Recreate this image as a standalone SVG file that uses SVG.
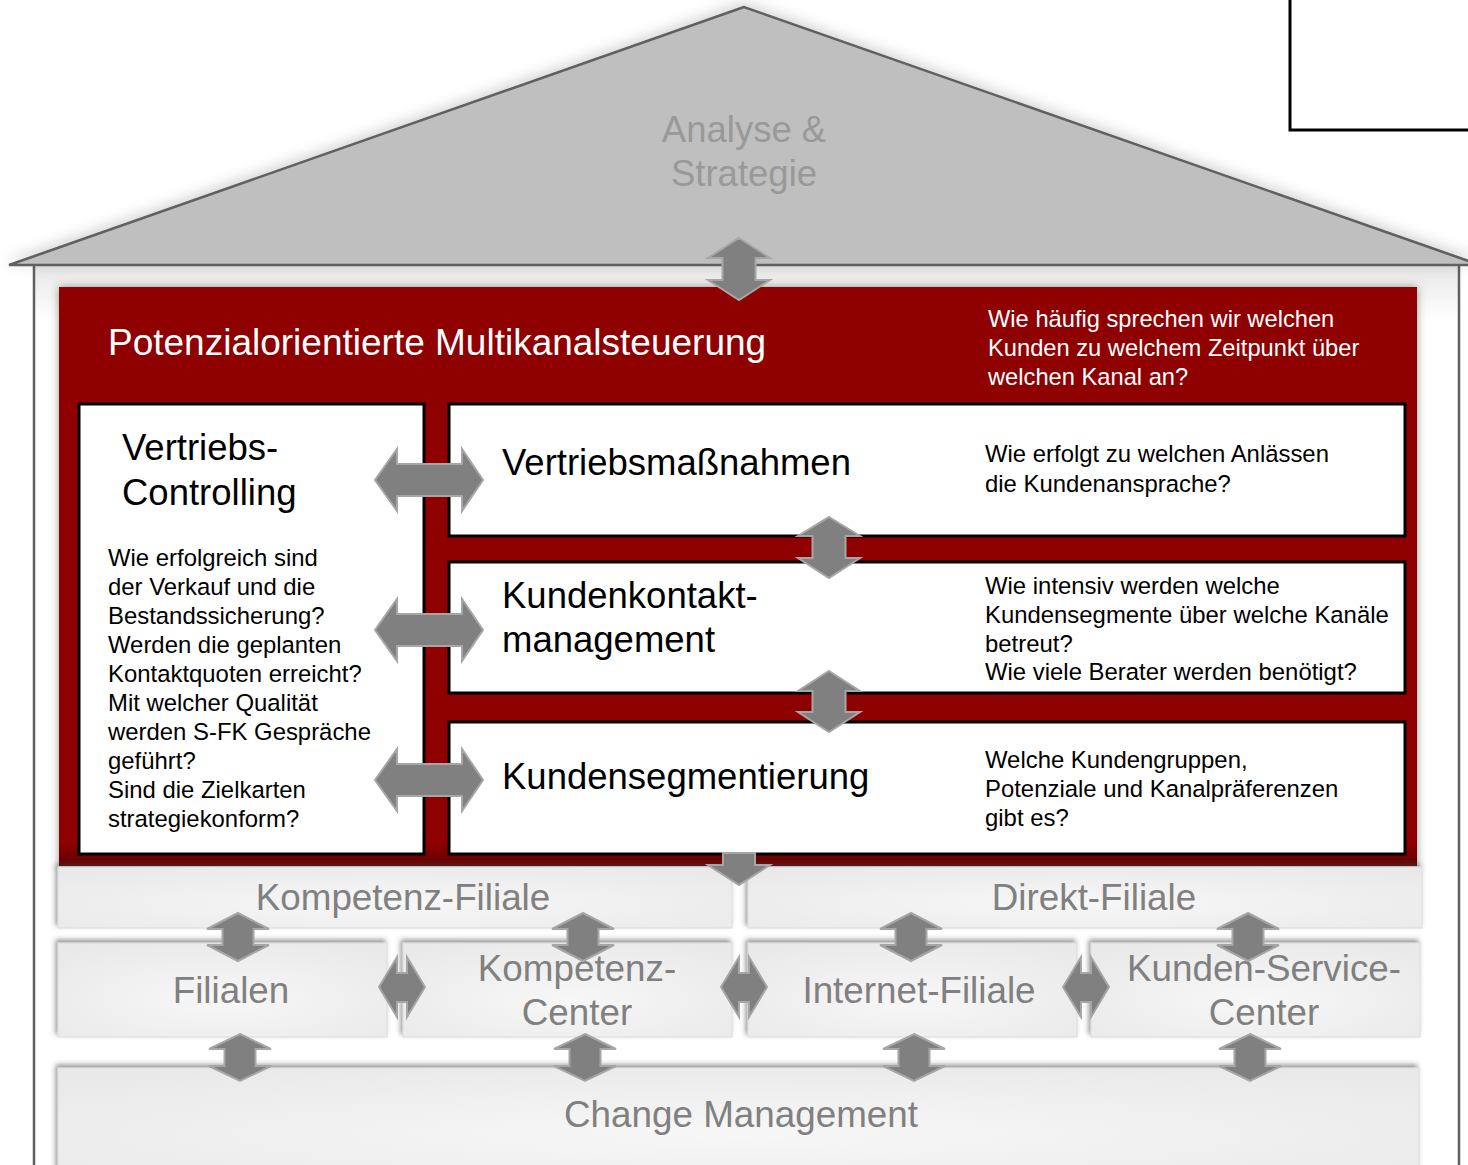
<svg xmlns="http://www.w3.org/2000/svg" width="1468" height="1165" viewBox="0 0 1468 1165">
<defs>
<filter id="roofsh" x="-10%" y="-30%" width="120%" height="160%"><feDropShadow dx="0" dy="-3" stdDeviation="7" flood-color="#000" flood-opacity="0.18"/></filter>
<filter id="redsh" x="-5%" y="-5%" width="110%" height="110%"><feDropShadow dx="0" dy="0" stdDeviation="4" flood-color="#404040" flood-opacity="0.55"/></filter>
<filter id="boxsh" x="-5%" y="-20%" width="110%" height="140%"><feDropShadow dx="-2" dy="-3" stdDeviation="2.5" flood-color="#404040" flood-opacity="0.55"/></filter>
<linearGradient id="redg" x1="0" y1="0" x2="0" y2="1"><stop offset="0" stop-color="#8f0000"/><stop offset="0.96" stop-color="#8f0000"/><stop offset="1" stop-color="#600000"/></linearGradient>
<radialGradient id="boxg" cx="0.5" cy="0.6" r="0.7"><stop offset="0" stop-color="#f7f7f7"/><stop offset="1" stop-color="#e9e9e9"/></radialGradient>
<linearGradient id="wallg" x1="0" y1="0" x2="0" y2="1"><stop offset="0" stop-color="#e6e6e6"/><stop offset="0.06" stop-color="#ffffff"/><stop offset="1" stop-color="#ffffff"/></linearGradient>
</defs>
<style>
.roof{fill:#bfbfbf;stroke:#606060;stroke-width:2.5;stroke-linejoin:miter}
.wall{stroke:#606060;stroke-width:2.5;fill:none}
.red{fill:url(#redg)}
.wbox{fill:#ffffff;stroke:#000000;stroke-width:3}
.gbox{fill:url(#boxg);stroke:#dcdcdc;stroke-width:1}
.arr{fill:#808080;stroke:#a6a6a6;stroke-width:2;stroke-linejoin:miter}
text{font-family:"Liberation Sans",Arial,Helvetica,sans-serif}
.big{font-size:36.5px;fill:#000}
.sm{font-size:23.9px;fill:#000}
.wsm{font-size:23.7px;fill:#fff}
.title{font-size:37px;fill:#fff}
.gray{font-size:36.8px;fill:#808080;text-anchor:middle}
.roofT{font-size:36.5px;fill:#999999;text-anchor:middle}
</style>
<rect x="0" y="0" width="1468" height="1165" fill="#ffffff"/>
<g id="frame">
<rect x="34" y="265" width="1425" height="900" fill="url(#wallg)"/>
<line class="wall" x1="34" y1="265" x2="34" y2="1165"/>
<line class="wall" x1="1459" y1="265" x2="1459" y2="1165"/>
</g>
<g id="roof">
<polygon class="roof" points="744,7 9,265 1480,265" filter="url(#roofsh)"/>
<text class="roofT" x="744" y="142">Analyse &amp;</text>
<text class="roofT" x="744" y="186">Strategie</text>
</g>
<g id="corner-box">
<rect x="1290" y="-5" width="200" height="135" fill="#ffffff" stroke="#000" stroke-width="3"/>
</g>
<g id="multikanal">
<rect class="red" x="59" y="287" width="1358" height="579" filter="url(#redsh)"/>
<text class="title" x="108" y="355">Potenzialorientierte Multikanalsteuerung</text>
<text class="wsm" x="988" y="327">Wie häufig sprechen wir welchen</text>
<text class="wsm" x="988" y="356">Kunden zu welchem Zeitpunkt über</text>
<text class="wsm" x="988" y="385">welchen Kanal an?</text>
</g>
<g id="vertriebs-controlling">
<rect class="wbox" x="79" y="404" width="345" height="450"/>
<text class="big" x="122" y="460">Vertriebs-</text>
<text class="big" x="122" y="505">Controlling</text>
<text class="sm" x="108" y="566">Wie erfolgreich sind</text>
<text class="sm" x="108" y="595">der Verkauf und die</text>
<text class="sm" x="108" y="624">Bestandssicherung?</text>
<text class="sm" x="108" y="653">Werden die geplanten</text>
<text class="sm" x="108" y="682">Kontaktquoten erreicht?</text>
<text class="sm" x="108" y="711">Mit welcher Qualität</text>
<text class="sm" x="108" y="740">werden S-FK Gespräche</text>
<text class="sm" x="108" y="769">geführt?</text>
<text class="sm" x="108" y="798">Sind die Zielkarten</text>
<text class="sm" x="108" y="827">strategiekonform?</text>
</g>
<g id="vertriebsmassnahmen">
<rect class="wbox" x="449" y="404" width="956" height="132"/>
<text class="big" x="502" y="475">Vertriebsmaßnahmen</text>
<text class="sm" x="985" y="462">Wie erfolgt zu welchen Anlässen</text>
<text class="sm" x="985" y="492">die Kundenansprache?</text>
</g>
<g id="kundenkontaktmanagement">
<rect class="wbox" x="449" y="562" width="956" height="131"/>
<text class="big" x="502" y="608">Kundenkontakt-</text>
<text class="big" x="502" y="652">management</text>
<text class="sm" x="985" y="594">Wie intensiv werden welche</text>
<text class="sm" x="985" y="623">Kundensegmente über welche Kanäle</text>
<text class="sm" x="985" y="652">betreut?</text>
<text class="sm" x="985" y="680">Wie viele Berater werden benötigt?</text>
</g>
<g id="kundensegmentierung">
<rect class="wbox" x="449" y="722" width="956" height="132"/>
<text class="big" x="502" y="789">Kundensegmentierung</text>
<text class="sm" x="985" y="768">Welche Kundengruppen,</text>
<text class="sm" x="985" y="797">Potenziale und Kanalpräferenzen</text>
<text class="sm" x="985" y="826">gibt es?</text>
</g>
<g id="kompetenz-filiale">
<rect class="gbox" x="58" y="867" width="674" height="61" filter="url(#boxsh)"/>
<text class="gray" x="403" y="910">Kompetenz-Filiale</text>
</g>
<g id="direkt-filiale">
<rect class="gbox" x="748" y="867" width="674" height="61" filter="url(#boxsh)"/>
<text class="gray" x="1094" y="910">Direkt-Filiale</text>
</g>
<g id="filialen">
<rect class="gbox" x="58" y="943" width="329" height="94" filter="url(#boxsh)"/>
<text class="gray" x="231" y="1003">Filialen</text>
</g>
<g id="kompetenz-center">
<rect class="gbox" x="403" y="943" width="329" height="94" filter="url(#boxsh)"/>
<text class="gray" x="577" y="981">Kompetenz-</text>
<text class="gray" x="577" y="1025">Center</text>
</g>
<g id="internet-filiale">
<rect class="gbox" x="748" y="943" width="329" height="94" filter="url(#boxsh)"/>
<text class="gray" x="919" y="1003">Internet-Filiale</text>
</g>
<g id="kunden-service-center">
<rect class="gbox" x="1091" y="943" width="329" height="94" filter="url(#boxsh)"/>
<text class="gray" x="1264" y="981">Kunden-Service-</text>
<text class="gray" x="1264" y="1025">Center</text>
</g>
<g id="change-management">
<rect class="gbox" x="58" y="1068" width="1361" height="110" filter="url(#boxsh)"/>
<text class="gray" x="741" y="1127">Change Management</text>
</g>
<g id="connectors">
<polygon class="arr" points="739,238 770,258 755.5,258 755.5,280 770,280 739,300 708,280 722.5,280 722.5,258 708,258"/>
<polygon class="arr" points="829,517 860,536 845.5,536 845.5,558 860,558 829,578 798,558 812.5,558 812.5,536 798,536"/>
<polygon class="arr" points="829,671 860,691 845.5,691 845.5,712 860,712 829,732 798,712 812.5,712 812.5,691 798,691"/>
<polygon class="arr" points="375,480 397,449 397,464 462,464 462,449 483,480 462,511 462,496 397,496 397,511"/>
<polygon class="arr" points="375,630 397,599 397,614 462,614 462,599 483,630 462,661 462,646 397,646 397,661"/>
<polygon class="arr" points="375,780 397,749 397,764 462,764 462,749 483,780 462,811 462,796 397,796 397,811"/>
<polygon class="arr" points="723,853 755,853 755,865 770,865 739,885 708,865 723,865"/>
<polygon class="arr" points="238,913 269,929 253.5,929 253.5,945 269,945 238,961 207,945 222.5,945 222.5,929 207,929"/>
<polygon class="arr" points="583,913 614,929 598.5,929 598.5,945 614,945 583,961 552,945 567.5,945 567.5,929 552,929"/>
<polygon class="arr" points="911,913 942,929 926.5,929 926.5,945 942,945 911,961 880,945 895.5,945 895.5,929 880,929"/>
<polygon class="arr" points="1248,913 1279,929 1263.5,929 1263.5,945 1279,945 1248,961 1217,945 1232.5,945 1232.5,929 1217,929"/>
<polygon class="arr" points="379,987 397,957 397,973 407,973 407,957 425,987 407,1017 407,1002 397,1002 397,1017"/>
<polygon class="arr" points="721,987 739,957 739,973 749,973 749,957 767,987 749,1017 749,1002 739,1002 739,1017"/>
<polygon class="arr" points="1063,987 1081,957 1081,973 1091,973 1091,957 1109,987 1091,1017 1091,1002 1081,1002 1081,1017"/>
<polygon class="arr" points="240,1034 271,1049 255.5,1049 255.5,1066 271,1066 240,1081 209,1066 224.5,1066 224.5,1049 209,1049"/>
<polygon class="arr" points="585,1034 616,1049 600.5,1049 600.5,1066 616,1066 585,1081 554,1066 569.5,1066 569.5,1049 554,1049"/>
<polygon class="arr" points="914,1034 945,1049 929.5,1049 929.5,1066 945,1066 914,1081 883,1066 898.5,1066 898.5,1049 883,1049"/>
<polygon class="arr" points="1250,1034 1281,1049 1265.5,1049 1265.5,1066 1281,1066 1250,1081 1219,1066 1234.5,1066 1234.5,1049 1219,1049"/>
</g>
</svg>
